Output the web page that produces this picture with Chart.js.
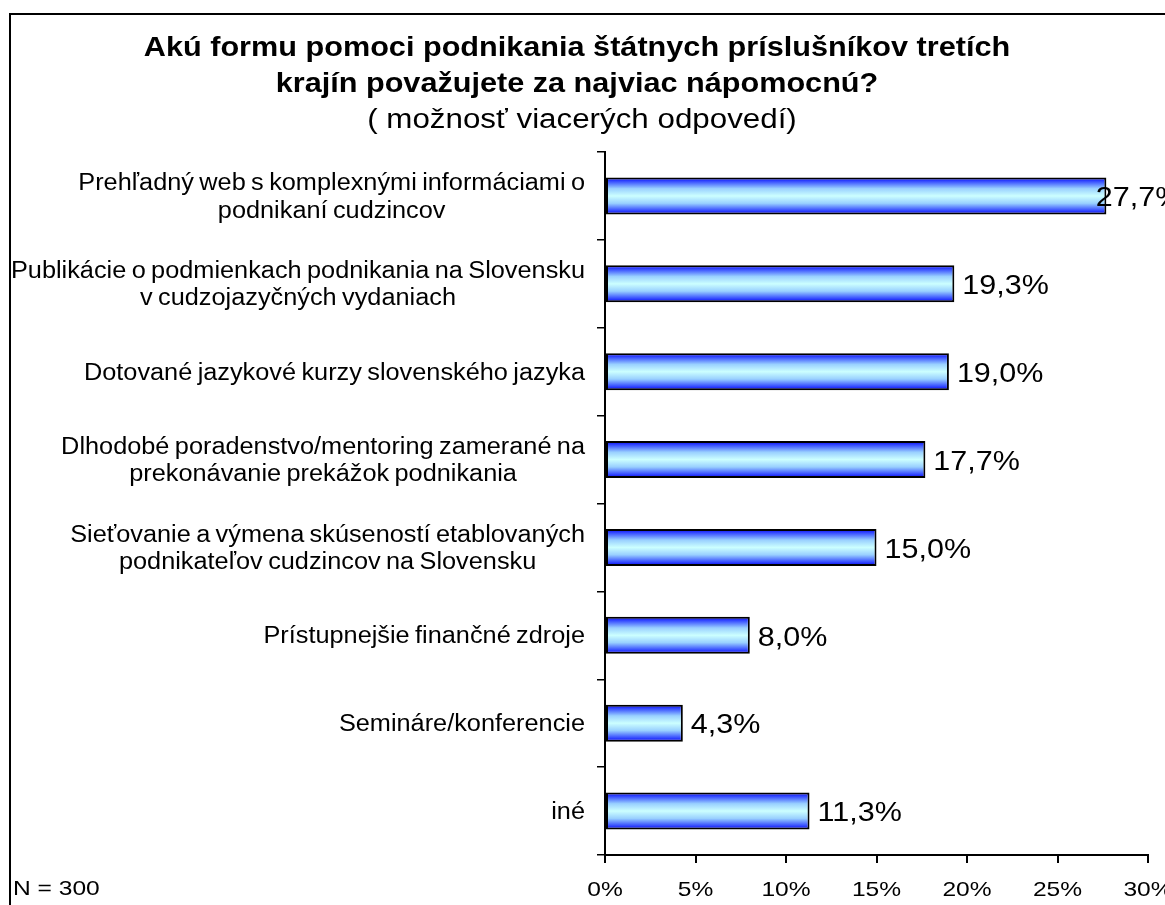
<!DOCTYPE html>
<html>
<head>
<meta charset="utf-8">
<script src="https://cdn.jsdelivr.net/npm/chart.js@4.4.1/dist/chart.umd.min.js"></script>
<style>
html,body{margin:0;padding:0;background:#fff;}
#wrap{width:1165px;height:905px;position:relative;}
</style>
</head>
<body>
<div id="wrap"><canvas id="c" width="1165" height="905"></canvas></div>
<script>
const titleLines = ["Akú formu pomoci podnikania štátnych príslušníkov tretích", "krajín považujete za najviac nápomocnú?"];
const subtitle = "( možnosť viacerých odpovedí)";
const noteText = "N = 300";
const categories = [
  ["Prehľadný web s komplexnými informáciami o", "podnikaní cudzincov"],
  ["Publikácie o podmienkach podnikania na Slovensku", "v cudzojazyčných vydaniach"],
  ["Dotované jazykové kurzy slovenského jazyka"],
  ["Dlhodobé poradenstvo/mentoring zamerané na", "prekonávanie prekážok podnikania"],
  ["Sieťovanie a výmena skúseností etablovaných", "podnikateľov cudzincov na Slovensku"],
  ["Prístupnejšie finančné zdroje"],
  ["Semináre/konferencie"],
  ["iné"]
];
const values = [27.7, 19.3, 19.0, 17.7, 15.0, 8.0, 4.3, 11.3];
const xTicks = [0, 5, 10, 15, 20, 25, 30];

const FONT = "'Liberation Sans', Arial, sans-serif";
const BAR_PCT = 0.42;

function barGradient(ctx) {
  const chart = ctx.chart;
  const ys = chart.scales.y;
  if (!ys || ctx.dataIndex === undefined) return '#99c8ff';
  const cy = ys.getPixelForValue(ctx.dataIndex);
  const catH = (ys.bottom - ys.top) / categories.length;
  const h = catH * BAR_PCT;
  const top = cy - h / 2, bot = cy + h / 2;
  if (!isFinite(top) || !isFinite(bot) || bot <= top) return '#99c8ff';
  const g = chart.ctx.createLinearGradient(0, top, 0, bot);
  g.addColorStop(0, '#0000f0');
  g.addColorStop(0.1, '#3348ff');
  g.addColorStop(0.3, '#99d0ff');
  g.addColorStop(0.5, '#ccffff');
  g.addColorStop(0.7, '#99d0ff');
  g.addColorStop(0.9, '#3348ff');
  g.addColorStop(1, '#0000f0');
  return g;
}

function stretchText(c, txt, x, y, font, sx, align, ws) {
  c.save();
  c.font = font;
  c.wordSpacing = ws || '0px';
  c.textBaseline = 'middle';
  c.textAlign = 'left';
  const w = c.measureText(txt).width * sx;
  let left = x;
  if (align === 'center') left = x - w / 2;
  else if (align === 'right') left = x - w;
  c.translate(left, y);
  c.scale(sx, 1);
  c.fillText(txt, 0, 0);
  c.restore();
  return w;
}
function textW(c, txt, font, sx, ws) {
  c.save(); c.font = font; c.wordSpacing = ws || '0px';
  const w = c.measureText(txt).width * sx; c.restore(); return w;
}

const TITLE_F = "bold 28px " + FONT, TITLE_SX = 1.094;
const SUB_F = "27px " + FONT, SUB_SX = 1.16;
const CAT_F = "23px " + FONT, CAT_SX = 1.1, CAT_WS = '-1.5px';
const VAL_F = "28px " + FONT, VAL_SX = 1.09;
const TICK_F = "21px " + FONT, TICK_SX = 1.17;

const decor = {
  id: 'decor',
  beforeDraw(chart) {
    const c = chart.ctx;
    c.save();
    c.fillStyle = '#fff';
    c.fillRect(0, 0, chart.width, chart.height);
    c.strokeStyle = '#000';
    c.lineWidth = 2;
    c.strokeRect(10, 14, 1170, 900);
    c.restore();
  },
  afterDraw(chart) {
    const c = chart.ctx;
    c.save();
    c.fillStyle = '#000';
    stretchText(c, titleLines[0], 577, 48, TITLE_F, TITLE_SX, 'center');
    stretchText(c, titleLines[1], 577, 84, TITLE_F, TITLE_SX, 'center');
    stretchText(c, subtitle, 582, 121, SUB_F, SUB_SX, 'center');
    const ys = chart.scales.y;
    categories.forEach((lines, i) => {
      const cy = ys.getPixelForValue(i) + 1.5;
      const w = Math.max(...lines.map(l => textW(c, l, CAT_F, CAT_SX, CAT_WS)));
      const cx = 585 - w / 2;
      const lh = 27.5;
      const y0 = cy - (lines.length - 1) * lh / 2;
      lines.forEach((l, j) => stretchText(c, l, cx, y0 + j * lh, CAT_F, CAT_SX, 'center', CAT_WS));
    });
    const meta = chart.getDatasetMeta(0);
    meta.data.forEach((bar, i) => {
      const txt = values[i].toFixed(1).replace('.', ',') + '%';
      const tw = textW(c, txt, VAL_F, VAL_SX);
      let x = bar.x + 8;
      if (x + tw > chart.width) x = chart.width - tw * 0.8;
      stretchText(c, txt, x, bar.y + 2.5, VAL_F, VAL_SX, 'left');
    });
    const xs = chart.scales.x;
    xTicks.forEach(v => {
      stretchText(c, v + '%', xs.getPixelForValue(v), 890, TICK_F, TICK_SX, 'center');
    });
    stretchText(c, noteText, 13, 889, TICK_F, TICK_SX, 'left');
    c.restore();
  }
};

new Chart(document.getElementById('c'), {
  type: 'bar',
  data: {
    labels: categories,
    datasets: [{
      data: values,
      backgroundColor: barGradient,
      borderColor: '#000',
      borderWidth: 2,
      borderSkipped: false,
      barPercentage: BAR_PCT,
      categoryPercentage: 1.0
    }]
  },
  options: {
    indexAxis: 'y',
    responsive: false,
    animation: false,
    devicePixelRatio: 1,
    layout: { padding: { left: 0, right: 17, top: 152, bottom: 0 } },
    plugins: { legend: { display: false }, tooltip: { enabled: false }, title: { display: false } },
    scales: {
      x: {
        min: 0, max: 30,
        afterBuildTicks(scale) { scale.ticks = xTicks.map(v => ({ value: v })); },
        afterFit(scale) { scale.height = 905 - 855; },
        ticks: { display: false },
        grid: { drawOnChartArea: false, drawTicks: true, tickLength: 8, color: '#000', lineWidth: 2 },
        border: { color: '#000', width: 2 }
      },
      y: {
        afterFit(scale) { scale.width = 605; },
        ticks: { display: false },
        grid: { offset: true, drawOnChartArea: false, drawTicks: true, tickLength: 8, color: '#000', lineWidth: 1.5 },
        border: { color: '#000', width: 2 }
      }
    }
  },
  plugins: [decor]
});
</script>
</body>
</html>
